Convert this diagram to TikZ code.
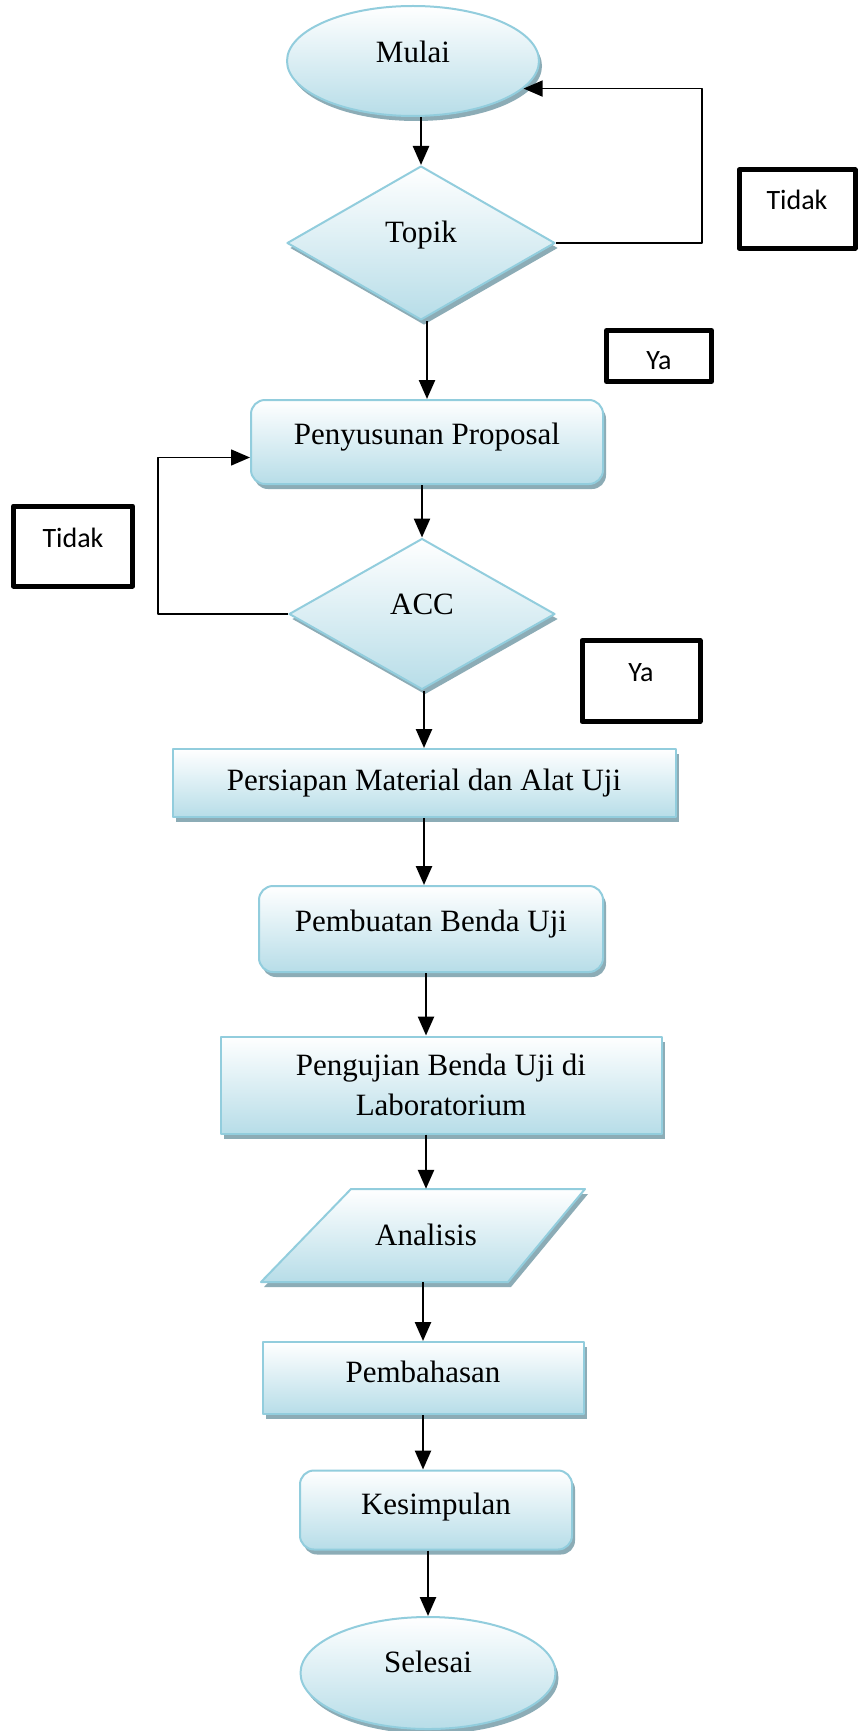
\documentclass[tikz,border=0pt]{standalone}
\usepackage{fontspec}
\setmainfont{Liberation Serif}
\newfontfamily\labelfont{Carlito}
\usetikzlibrary{shapes.geometric,shadows,arrows.meta}
\definecolor{shapeblue}{RGB}{183,221,232}
\definecolor{shapeedge}{RGB}{146,205,221}
\definecolor{shapeshade}{RGB}{140,172,182}
\begin{document}
\begin{tikzpicture}[x=1pt, y=-1pt, line join=round, >={Triangle[length=19pt,width=16pt]},
  font=\fontsize{31}{40}\selectfont,
  base/.style={draw=shapeedge, line width=2pt, top color=white, bottom color=shapeblue, inner sep=0pt,
    drop shadow={shadow xshift=3pt, shadow yshift=-5pt, fill=shapeshade, opacity=1}},
  terminal/.style={base, ellipse, text height=21pt},
  decision/.style={base, diamond, text height=21pt},
  process/.style={base, rectangle, text height=21pt},
  roundproc/.style={process, rounded corners=14pt},
  answer/.style={draw=black, line width=5pt, inner sep=0pt, font=\labelfont\fontsize{28}{34}\selectfont, text height=18pt},
  flow/.style={->, line width=2.5pt},
  back/.style={->, line width=1.5pt}]
\path[use as bounding box, fill=white] (0,0) rectangle (858,1731);
% main column
\node[terminal, minimum width=252pt, minimum height=110pt, text depth=17pt] (mulai) at (413,61) {Mulai};
\node[decision, minimum width=268pt, minimum height=154pt, text depth=23pt] (topik) at (421,243) {Topik};
\node[roundproc, minimum width=352pt, minimum height=84pt, text depth=17pt] (penyusunan) at (427,442) {Penyusunan Proposal};
\node[decision, minimum width=266pt, minimum height=151pt, text depth=21pt] (acc) at (422,614) {ACC};
\node[process, minimum width=503pt, minimum height=68pt, text depth=7pt] (persiapan) at (424,783) {Persiapan Material dan Alat Uji};
\node[roundproc, minimum width=344pt, minimum height=86pt, text depth=17pt] (pembuatan) at (431,929) {Pembuatan Benda Uji};
\node[base, rectangle, align=center, minimum width=441pt, minimum height=97pt] (pengujian) at (441,1085) {Pengujian Benda Uji di\\Laboratorium};
% parallelogram drawn directly, text node on top
\path[base] (351,1189) -- (585,1189) -- (508,1282) -- (261,1282) -- cycle;
\node[inner sep=0pt, minimum width=240pt, minimum height=93pt, text height=21pt, text depth=1pt] (analisis) at (426,1235.5) {Analisis};
\node[process, minimum width=321pt, minimum height=72pt, text depth=13pt] (pembahasan) at (423,1378) {Pembahasan};
\node[roundproc, minimum width=272pt, minimum height=79pt, text depth=13pt] (kesimpulan) at (436,1510) {Kesimpulan};
\node[terminal, minimum width=255pt, minimum height=112pt, text depth=23pt] (selesai) at (428,1673) {Selesai};
% answers
\node[answer, minimum width=116pt, minimum height=78pt, text depth=18pt] (tidakA) at (797,209) {Tidak};
\node[answer, minimum width=105pt, minimum height=51pt, text height=26pt, text depth=0pt] (yaA) at (659,356) {Ya};
\node[answer, minimum width=119pt, minimum height=80pt, text depth=16pt] (tidakB) at (73,546) {Tidak};
\node[answer, minimum width=118pt, minimum height=81pt, text depth=18pt] (yaB) at (641,681) {Ya};
% arrows
\draw[flow] (mulai.south -| topik.north) -- (topik.north);
\draw[flow] (topik.south -| penyusunan.north) -- (penyusunan.north);
\draw[flow] (penyusunan.south -| acc.north) -- (acc.north);
\draw[flow] (acc.south -| persiapan.north) -- (persiapan.north);
\draw[flow] (persiapan.south) -- (persiapan.south |- pembuatan.north);
\draw[flow] (pembuatan.south -| analisis.north) -- (pengujian.north -| analisis.north);
\draw[flow] (pengujian.south -| analisis.north) -- (analisis.north);
\draw[flow] (analisis.south -| pembahasan.north) -- (pembahasan.north);
\draw[flow] (pembahasan.south) -- (kesimpulan.north -| pembahasan.north);
\draw[flow] (kesimpulan.south -| selesai.north) -- (selesai.north);
% loops back
\coordinate (loopA) at (702,0);
\coordinate (loopB) at (158,0);
\draw[back] (topik.east) -| (loopA |- mulai.-14) -- (mulai.-14);
\draw[back] (acc.west) -| (loopB |- penyusunan.185) -- (penyusunan.185);
\end{tikzpicture}
\end{document}
